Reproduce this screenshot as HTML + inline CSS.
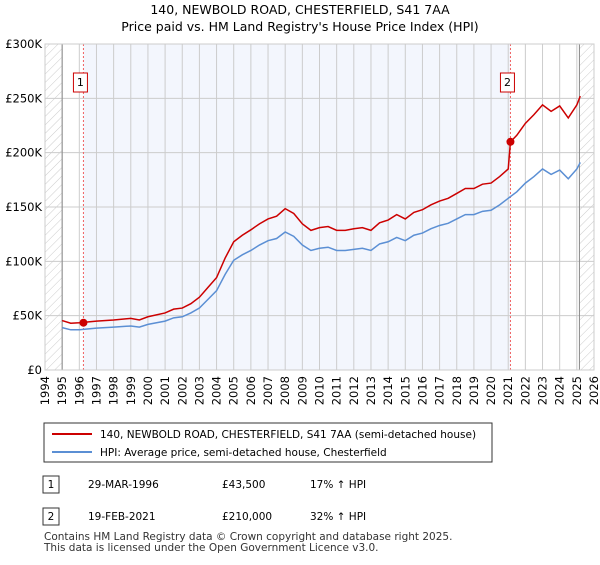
<!DOCTYPE html>
<html><head><meta charset="utf-8"><style>
body{margin:0;background:#fff;font-family:"Liberation Sans","DejaVu Sans",sans-serif;}
svg text{font-family:"DejaVu Sans","Liberation Sans",sans-serif;}
</style></head><body>
<svg id="c" width="600" height="560" viewBox="0 0 600 560">
<defs><pattern id="h" width="6" height="6" patternUnits="userSpaceOnUse" patternTransform="rotate(45)"><line x1="0" y1="0" x2="0" y2="6" stroke="#ccc" stroke-width="1"/></pattern></defs>
<text x="300" y="14" text-anchor="middle" font-size="12.5">140, NEWBOLD ROAD, CHESTERFIELD, S41 7AA</text>
<text x="300" y="31" text-anchor="middle" font-size="12.5">Price paid vs. HM Land Registry's House Price Index (HPI)</text>
<g id="plot"></g>
<rect x="44" y="423" width="448" height="39" fill="#fff" stroke="#333"/>
<line x1="52" y1="434" x2="92" y2="434" stroke="#cc0000" stroke-width="2"/>
<text x="100" y="438" font-size="10.5">140, NEWBOLD ROAD, CHESTERFIELD, S41 7AA (semi-detached house)</text>
<line x1="52" y1="452" x2="92" y2="452" stroke="#5b8fd4" stroke-width="2"/>
<text x="100" y="456" font-size="10.5">HPI: Average price, semi-detached house, Chesterfield</text>
<rect x="43" y="476" width="16" height="17" fill="#fff" stroke="#333"/>
<text x="51" y="488" text-anchor="middle" font-size="10.5">1</text>
<text x="88" y="488" font-size="10.5">29-MAR-1996</text>
<text x="222" y="488" font-size="10.5">£43,500</text>
<text x="310" y="488" font-size="10.5">17% ↑ HPI</text>
<rect x="43" y="508" width="16" height="17" fill="#fff" stroke="#333"/>
<text x="51" y="520" text-anchor="middle" font-size="10.5">2</text>
<text x="88" y="520" font-size="10.5">19-FEB-2021</text>
<text x="222" y="520" font-size="10.5">£210,000</text>
<text x="310" y="520" font-size="10.5">32% ↑ HPI</text>
<text x="44" y="540" font-size="10.5" fill="#333">Contains HM Land Registry data © Crown copyright and database right 2025.</text>
<text x="44" y="551" font-size="10.5" fill="#333">This data is licensed under the Open Government Licence v3.0.</text>
</svg>
<script>
const hpiYears=[1995,1995.5,1996,1997,1998,1999,1999.5,2000,2001,2001.5,2002,2002.5,2003,2003.5,2004,2004.5,2005,2005.5,2006,2006.5,2007,2007.5,2008,2008.5,2009,2009.5,2010,2010.5,2011,2011.5,2012,2012.5,2013,2013.5,2014,2014.5,2015,2015.5,2016,2016.5,2017,2017.5,2018,2018.5,2019,2019.5,2020,2020.5,2021,2021.5,2022,2022.5,2023,2023.5,2024,2024.5,2025,2025.2];
const hpiValues=[39,37,37,38.5,39.5,40.5,39.5,42,45,48,49,52.5,57,65,73,88,101,106,110,115,119,121,127,123,115,110,112,113,110,110,111,112,110,116,118,122,119,124,126,130,133,135,139,143,143,146,147,152,158,164,172,178,185,180,184,176,185,191];
const priceYears=[1995,1995.5,1996,1997,1998,1999,1999.5,2000,2001,2001.5,2002,2002.5,2003,2003.5,2004,2004.5,2005,2005.5,2006,2006.5,2007,2007.5,2008,2008.5,2009,2009.5,2010,2010.5,2011,2011.5,2012,2012.5,2013,2013.5,2014,2014.5,2015,2015.5,2016,2016.5,2017,2017.5,2018,2018.5,2019,2019.5,2020,2020.5,2021,2021.13,2021.5,2022,2022.5,2023,2023.5,2024,2024.5,2025,2025.2];
const priceValues=[45.5,43,43.5,45,46,47.5,46,49,52.5,56,57,61,67,76,85,103,118,124,129,134.5,139,141.5,148.5,144,134.5,128.5,131,132,128.5,128.5,130,131,128.5,135.5,138,143,139,145,147.5,152,155.5,158,162.5,167,167,171,172,178,185,210,216,227,235,244,238,243,232,244,252];
const saleYears=[1996.24,2021.13];
const saleValues=[43.5,210];
const saleLabels=["1","2"];
const yTicks=[0,50,100,150,200,250,300];
const yTickLabels=["£0","£50K","£100K","£150K","£200K","£250K","£300K"];
const xTicks=[1994,1995,1996,1997,1998,1999,2000,2001,2002,2003,2004,2005,2006,2007,2008,2009,2010,2011,2012,2013,2014,2015,2016,2017,2018,2019,2020,2021,2022,2023,2024,2025,2026];
const dataEnd=2025.15;

const L=45,R=594,T=44,B=370;
const x=v=>L+(v-1994)/32*(R-L);
const y=v=>B-v/300*(B-T);
const NS="http://www.w3.org/2000/svg";
const g=document.getElementById('plot');
function mk(t,a){const e=document.createElementNS(NS,t);for(const k in a)e.setAttribute(k,a[k]);g.appendChild(e);return e;}
let e;
e=mk('rect',{x:x(saleYears[0]),y:T,width:x(saleYears[1])-x(saleYears[0]),height:B-T,fill:'#f0f4fd',opacity:0.8});


e=mk('rect',{x:L,y:T,width:x(1995)-L,height:B-T,fill:'url(#h)'});


e=mk('rect',{x:x(dataEnd),y:T,width:R-x(dataEnd),height:B-T,fill:'url(#h)'});


xTicks.forEach(t=>{
 e=mk('line',{x1:x(t),x2:x(t),y1:T,y2:B,stroke:'#ccc','stroke-width':1});
 
 
 e=mk('text',{x:0,y:0,'font-size':11.5,'text-anchor':'end',transform:`translate(${x(t)+4},${B+6}) rotate(-90)`});
 e.textContent=t;
 
 
});
yTicks.forEach((t,i)=>{
 e=mk('line',{x1:L,x2:R,y1:y(t),y2:y(t),stroke:'#ccc','stroke-width':1});
 
 
 e=mk('text',{x:L-3,y:y(t)+4,'font-size':11.5,'text-anchor':'end'});
 e.textContent=yTickLabels[i];
 
 
});
e=mk('line',{x1:x(1995),x2:x(1995),y1:T,y2:B,stroke:'#888','stroke-width':1});


e=mk('line',{x1:x(dataEnd),x2:x(dataEnd),y1:T,y2:B,stroke:'#888','stroke-width':1});


saleYears.forEach((s,i)=>{
 e=mk('line',{x1:x(s),x2:x(s),y1:T,y2:B,stroke:'#f06060','stroke-width':1,'stroke-dasharray':'2,2'});
 
 
});
e=mk('polyline',{points:hpiYears.map((t,i)=>x(t)+','+y(hpiValues[i])).join(' '),fill:'none',stroke:'#5b8fd4','stroke-width':1.5});


e=mk('polyline',{points:priceYears.map((t,i)=>x(t)+','+y(priceValues[i])).join(' '),fill:'none',stroke:'#cc0000','stroke-width':1.5});


saleYears.forEach((s,i)=>{
 e=mk('circle',{cx:x(s),cy:y(saleValues[i]),r:4,fill:'#cc0000'});
 
 
 e=mk('rect',{x:x(s)-10,y:73,width:14,height:19,fill:'#fff',stroke:'#cc0000'});
 
 
 e=mk('text',{x:x(s)-3,y:86,'font-size':11,'text-anchor':'middle'});
 e.textContent=saleLabels[i];
 
 
});
e=mk('rect',{x:L,y:T,width:R-L,height:B-T,fill:'none',stroke:'#ccc'});


</script>
</body></html>
